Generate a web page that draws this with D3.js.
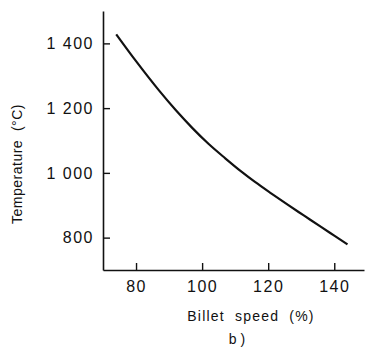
<!DOCTYPE html>
<html>
<head>
<meta charset="utf-8">
<script src="https://cdn.jsdelivr.net/npm/d3@7"></script>
<style>
  body { margin: 0; background: #fff; }
  svg { display: block; }
  text { font-family: "Liberation Sans", Arial, sans-serif; fill: #111; }
</style>
</head>
<body>
<svg id="chart" width="374" height="347"></svg>
<script>
// billet speed (%) vs temperature (°C)
const speeds = [74, 80, 87, 92, 97, 102, 107, 112, 116, 121, 126, 131, 136, 140, 144];
const temps = [1428, 1345, 1254, 1194, 1139, 1089, 1045, 1003, 972, 936, 901, 867, 833, 806, 779];

const xTicks = [80, 100, 120, 140];
const yTicks = [800, 1000, 1200, 1400];
const yTickLabels = ['800', '1 000', '1 200', '1 400'];

const width = 374, height = 347;
const margin = { top: 11, right: 10, bottom: 77, left: 103 };

const svg = d3.select('#chart');

const x = d3.scaleLinear()
  .domain([70, 149])
  .range([margin.left, width - margin.right]);

const y = d3.scaleLinear()
  .domain([700, 1500])
  .range([height - margin.bottom, margin.top]);

// axes - ticks point inwards
const xAxis = d3.axisBottom(x)
  .tickValues(xTicks)
  .tickSizeInner(-7)
  .tickSizeOuter(0)
  .tickPadding(10.5);

const yAxis = d3.axisLeft(y)
  .tickValues(yTicks)
  .tickFormat((d, i) => yTickLabels[i])
  .tickSizeInner(-7)
  .tickSizeOuter(0)
  .tickPadding(9);

const gx = svg.append('g')
  .attr('transform', `translate(0,${y(700)})`)
  .call(xAxis);

const gy = svg.append('g')
  .attr('transform', `translate(${x(70)},0)`)
  .call(yAxis);

[gx, gy].forEach(g => {
  g.select('.domain').attr('stroke', '#111').attr('stroke-width', 1.6);
  g.selectAll('.tick line').attr('stroke', '#111').attr('stroke-width', 1.4);
  g.selectAll('.tick text')
    .attr('font-family', '"Liberation Sans", Arial, sans-serif')
    .attr('font-size', 16)
    .attr('letter-spacing', 1.5)
    .attr('fill', '#111');
});

// curve
const line = d3.line()
  .x((d, i) => x(speeds[i]))
  .y(d => y(d))
  .curve(d3.curveMonotoneX);

svg.append('path')
  .datum(temps)
  .attr('fill', 'none')
  .attr('stroke', '#111')
  .attr('stroke-width', 2.2)
  .attr('d', line);

// axis titles
svg.append('text')
  .attr('transform', 'translate(22,164) rotate(-90)')
  .attr('text-anchor', 'middle')
  .attr('font-size', 14)
  .attr('letter-spacing', 0.5)
  .attr('xml:space', 'preserve')
  .text('Temperature  (°C)');

svg.append('text')
  .attr('x', 251)
  .attr('y', 321)
  .attr('text-anchor', 'middle')
  .attr('font-size', 14)
  .attr('letter-spacing', 1.2)
  .attr('xml:space', 'preserve')
  .text('Billet  speed  (%)');

svg.append('text')
  .attr('x', 237)
  .attr('y', 344)
  .attr('text-anchor', 'middle')
  .attr('font-size', 14)
  .attr('xml:space', 'preserve')
  .text('b )');
</script>
</body>
</html>
